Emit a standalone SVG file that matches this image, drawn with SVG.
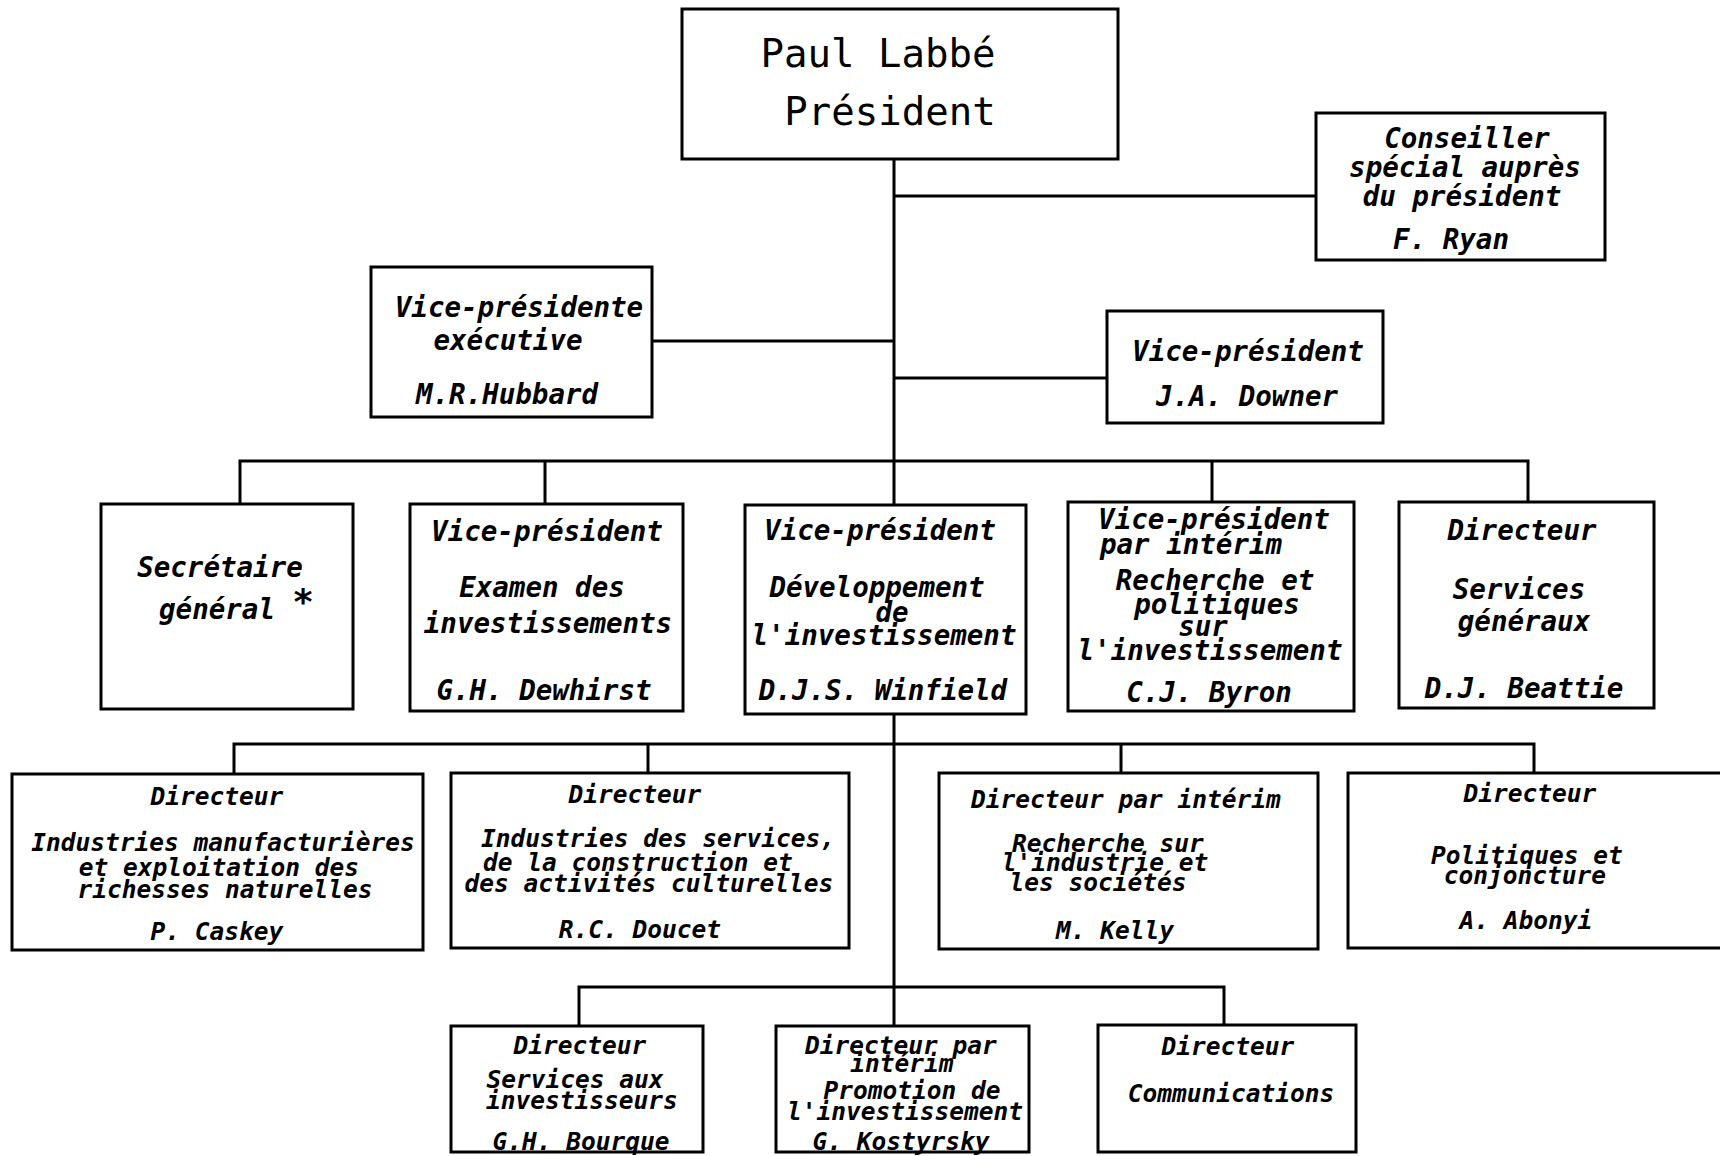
<svg xmlns="http://www.w3.org/2000/svg" width="1720" height="1156" viewBox="0 0 1720 1156">
<style>
.box{fill:#fff;stroke:#000;stroke-width:3}
.conn{fill:none;stroke:#000;stroke-width:3}
text{font-family:"DejaVu Sans Mono","Liberation Mono",monospace;fill:#000;text-anchor:middle}
.t{font-style:italic;font-weight:bold;font-size:27.5px}
.s{font-style:italic;font-weight:bold;font-size:24.5px}
.p{font-style:normal;font-weight:normal;font-size:39px}
.ast{font-style:normal;font-weight:bold;font-size:36px}
</style>
<rect width="1720" height="1156" fill="#fff"/>
<g id="connectors">
<path class="conn" d="M894,159 V1026"/>
<path class="conn" d="M894,196 H1316"/>
<path class="conn" d="M652,341 H894"/>
<path class="conn" d="M894,378 H1107"/>
<path class="conn" d="M240,505 V461 H1528 V502"/>
<path class="conn" d="M545,461 V504"/>
<path class="conn" d="M1212,461 V502"/>
<path class="conn" d="M234,774 V744 H1534 V773"/>
<path class="conn" d="M648,744 V773"/>
<path class="conn" d="M1121,744 V773"/>
<path class="conn" d="M579,1026 V987 H1224 V1025"/>
</g>
<g id="president">
<rect class="box" x="682" y="9" width="436" height="150"/>
<text class="p" x="878" y="67">Paul Labbé</text>
<text class="p" x="890" y="125">Président</text>
</g>
<g id="conseiller">
<rect class="box" x="1316" y="113" width="289" height="147"/>
<text class="t" x="1467" y="148">Conseiller</text>
<text class="t" x="1465" y="177">spécial auprès</text>
<text class="t" x="1462" y="206">du président</text>
<text class="t" x="1451" y="249">F. Ryan</text>
</g>
<g id="vp-executive">
<rect class="box" x="371" y="267" width="281" height="150"/>
<text class="t" x="519" y="317">Vice-présidente</text>
<text class="t" x="508" y="350">exécutive</text>
<text class="t" x="507" y="404">M.R.Hubbard</text>
</g>
<g id="vp-downer">
<rect class="box" x="1107" y="311" width="276" height="112"/>
<text class="t" x="1248" y="361">Vice-président</text>
<text class="t" x="1247" y="406">J.A. Downer</text>
</g>
<g id="secretaire">
<rect class="box" x="101" y="504" width="252" height="205"/>
<text class="t" x="220" y="577">Secrétaire</text>
<text class="t" x="217" y="619">général</text>
<text class="ast" x="303" y="614">*</text>
</g>
<g id="vp-dewhirst">
<rect class="box" x="410" y="504" width="273" height="207"/>
<text class="t" x="547" y="541">Vice-président</text>
<text class="t" x="542" y="597">Examen des</text>
<text class="t" x="548" y="633">investissements</text>
<text class="t" x="544" y="700">G.H. Dewhirst</text>
</g>
<g id="vp-winfield">
<rect class="box" x="745" y="505" width="281" height="209"/>
<text class="t" x="880" y="540">Vice-président</text>
<text class="t" x="877" y="597">Développement</text>
<text class="t" x="892" y="622">de</text>
<text class="t" x="884" y="645">l'investissement</text>
<text class="t" x="883" y="700">D.J.S. Winfield</text>
</g>
<g id="vp-byron">
<rect class="box" x="1068" y="502" width="286" height="209"/>
<text class="t" x="1214" y="529">Vice-président</text>
<text class="t" x="1191" y="554">par intérim</text>
<text class="t" x="1215" y="590">Recherche et</text>
<text class="t" x="1217" y="614">politiques</text>
<text class="t" x="1203" y="636">sur</text>
<text class="t" x="1210" y="660">l'investissement</text>
<text class="t" x="1209" y="702">C.J. Byron</text>
</g>
<g id="dir-beattie">
<rect class="box" x="1399" y="502" width="255" height="206"/>
<text class="t" x="1522" y="540">Directeur</text>
<text class="t" x="1519" y="599">Services</text>
<text class="t" x="1524" y="631">généraux</text>
<text class="t" x="1524" y="698">D.J. Beattie</text>
</g>
<g id="dir-caskey">
<rect class="box" x="12" y="774" width="411" height="176"/>
<text class="s" x="217" y="805">Directeur</text>
<text class="s" x="223" y="851">Industries manufacturières</text>
<text class="s" x="219" y="876">et exploitation des</text>
<text class="s" x="225" y="898">richesses naturelles</text>
<text class="s" x="217" y="940">P. Caskey</text>
</g>
<g id="dir-doucet">
<rect class="box" x="451" y="773" width="398" height="175"/>
<text class="s" x="635" y="803">Directeur</text>
<text class="s" x="658" y="847">Industries des services,</text>
<text class="s" x="638" y="871">de la construction et</text>
<text class="s" x="649" y="892">des activités culturelles</text>
<text class="s" x="640" y="938">R.C. Doucet</text>
</g>
<g id="dir-kelly">
<rect class="box" x="939" y="773" width="379" height="176"/>
<text class="s" x="1126" y="808">Directeur par intérim</text>
<text class="s" x="1108" y="852">Recherche sur</text>
<text class="s" x="1105" y="871">l'industrie et</text>
<text class="s" x="1098" y="891">les sociétés</text>
<text class="s" x="1115" y="939">M. Kelly</text>
</g>
<g id="dir-abonyi">
<rect class="box" x="1348" y="773" width="380" height="175"/>
<text class="s" x="1530" y="802">Directeur</text>
<text class="s" x="1527" y="864">Politiques et</text>
<text class="s" x="1525" y="884">conjoncture</text>
<text class="s" x="1526" y="929">A. Abonyi</text>
</g>
<g id="dir-bourque">
<rect class="box" x="451" y="1026" width="252" height="126"/>
<text class="s" x="580" y="1054">Directeur</text>
<text class="s" x="575" y="1088">Services aux</text>
<text class="s" x="582" y="1109">investisseurs</text>
<text class="s" x="581" y="1150">G.H. Bourque</text>
</g>
<g id="dir-kostyrsky">
<rect class="box" x="776" y="1026" width="253" height="126"/>
<text class="s" x="901" y="1054">Directeur par</text>
<text class="s" x="902" y="1072">intérim</text>
<text class="s" x="912" y="1099">Promotion de</text>
<text class="s" x="905" y="1120">l'investissement</text>
<text class="s" x="901" y="1150">G. Kostyrsky</text>
</g>
<g id="dir-communications">
<rect class="box" x="1098" y="1025" width="258" height="127"/>
<text class="s" x="1228" y="1055">Directeur</text>
<text class="s" x="1231" y="1102">Communications</text>
</g>
</svg>
